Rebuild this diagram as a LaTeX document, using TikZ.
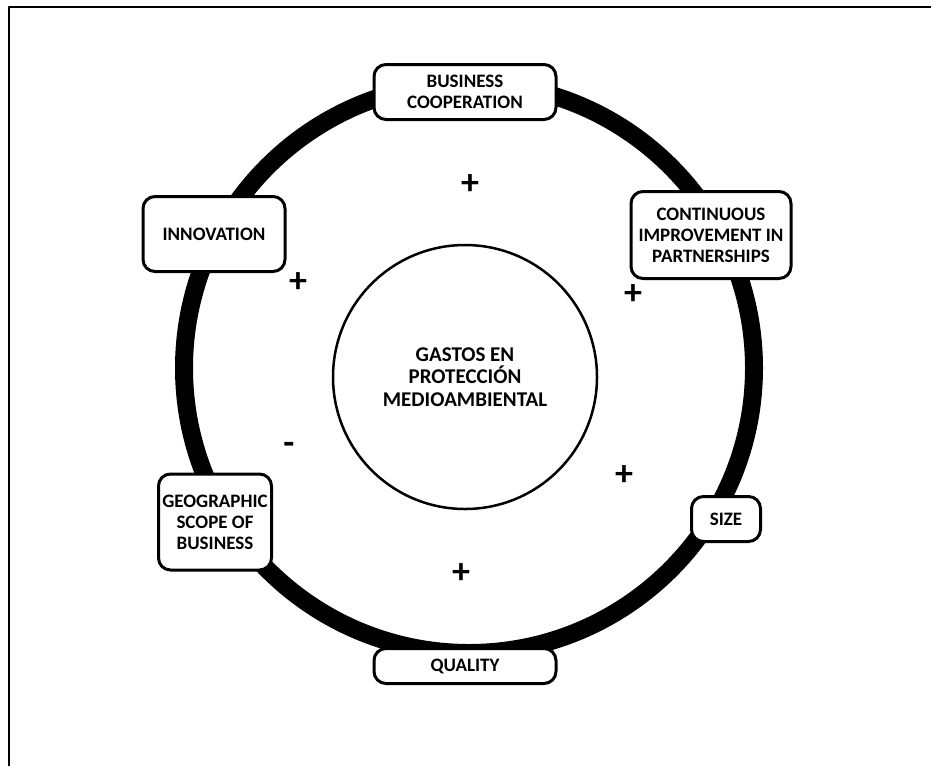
\documentclass[tikz,border=0pt]{standalone}
\usepackage{fontspec}
\setmainfont{Carlito}
\tikzset{box/.style={draw, line width=3pt, rounded corners=12pt, fill=white,
    font=\fontsize{19}{21}\selectfont\bfseries, align=center, inner sep=0pt}}
\tikzset{sign/.style={font=\fontsize{36}{36}\selectfont\bfseries, inner sep=0pt}}

\begin{document}
\begin{tikzpicture}[x=1pt, y=-1pt, line join=round]
\useasboundingbox (0,0) rectangle (931,766);
\draw[line width=2pt] (9,766) -- (9,7) -- (931,7);

\coordinate (c) at (469,368);
\draw[line width=18pt] (c) circle (285pt);

\node[circle, draw, line width=2.5pt, minimum size=264pt, fill=white, inner sep=0pt,
    font=\fontsize{21}{22.5}\selectfont\bfseries, align=center] (gastos) at (465,377)
    {GASTOS EN\\PROTECCIÓN\\MEDIOAMBIENTAL};

\node[box, minimum width=182pt, minimum height=55pt] (coop) at (465,92) {BUSINESS\\COOPERATION};
\node[box, minimum width=160pt, minimum height=87pt] (improve) at (711,235) {CONTINUOUS\\IMPROVEMENT IN\\PARTNERSHIPS};
\node[box, minimum width=142pt, minimum height=75pt] (innov) at (214,234) {INNOVATION};
\node[box, minimum width=113pt, minimum height=96pt] (geo) at (215,522) {GEOGRAPHIC\\SCOPE OF\\BUSINESS};
\node[box, minimum width=69pt, minimum height=45pt] (size) at (726,519) {SIZE};
\node[box, minimum width=182pt, minimum height=35pt] (quality) at (465,666) {QUALITY};

\node[sign] (s1) at (470,185) {+};
\node[sign] (s2) at (298,283) {+};
\node[sign] (s3) at (633,295) {+};
\node[sign] (s4) at (624,476) {+};
\node[sign] (s5) at (461,574) {+};
\node[sign] (s6) at (289,448) {-};
\end{tikzpicture}
\end{document}
